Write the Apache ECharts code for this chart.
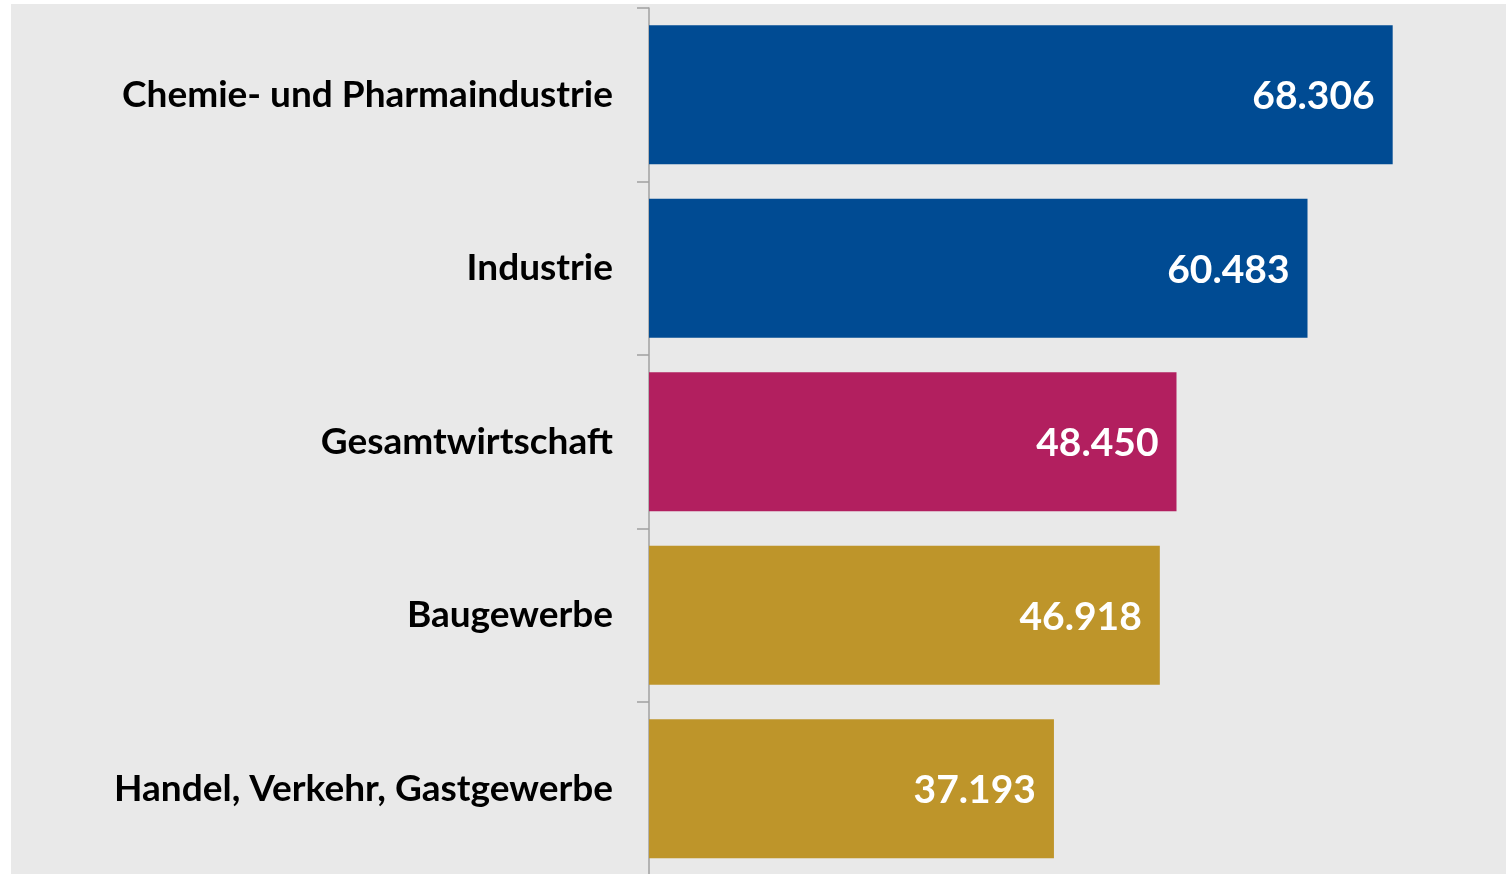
<!DOCTYPE html>
<html>
<head>
<meta charset="utf-8">
<script src="https://cdn.jsdelivr.net/npm/echarts@6/dist/echarts.min.js"></script>
<style>
  html, body { margin: 0; padding: 0; background: #fff; overflow: hidden; }
  #chart { position: absolute; left: 11px; top: 4px; width: 1510px; height: 872px; background: #e9e9e9; }
</style>
</head>
<body>
<div id="chart"></div>
<script>
const categories = [
  "Chemie- und Pharmaindustrie",
  "Industrie",
  "Gesamtwirtschaft",
  "Baugewerbe",
  "Handel, Verkehr, Gastgewerbe"
];
const values = [68306, 60483, 48450, 46918, 37193];
const barColors = ["#004b93", "#004b93", "#b21f5f", "#be952a", "#be952a"];

// German thousands separator
const fmt = (v) => String(v).replace(/\B(?=(\d{3})+(?!\d))/g, ".");

const chart = echarts.init(document.getElementById("chart"));

chart.setOption({
  animation: false,
  grid: { left: 638, top: 4, width: 871, height: 867.5, containLabel: false },
  xAxis: {
    type: "value",
    min: 0,
    max: 80000,
    show: false
  },
  yAxis: {
    type: "category",
    inverse: true,
    data: categories,
    axisLine: { show: true, lineStyle: { color: "#a0a0a0", width: 1.5 } },
    axisTick: { show: true, length: 12, lineStyle: { color: "#a0a0a0", width: 1.5 } },
    axisLabel: {
      margin: 36,
      color: "#000",
      fontFamily: "Lato",
      fontWeight: "bold",
      fontSize: 37
    },
    splitLine: { show: false }
  },
  series: [{
    type: "bar",
    barWidth: "80%",
    data: values.map((v, i) => ({ value: v, itemStyle: { color: barColors[i] } })),
    label: {
      show: true,
      position: "insideRight",
      distance: 18,
      offset: [0, 2],
      color: "#fff",
      fontFamily: "Lato",
      fontWeight: "bold",
      fontSize: 39,
      formatter: (p) => fmt(p.value)
    }
  }]
});
</script>
</body>
</html>
